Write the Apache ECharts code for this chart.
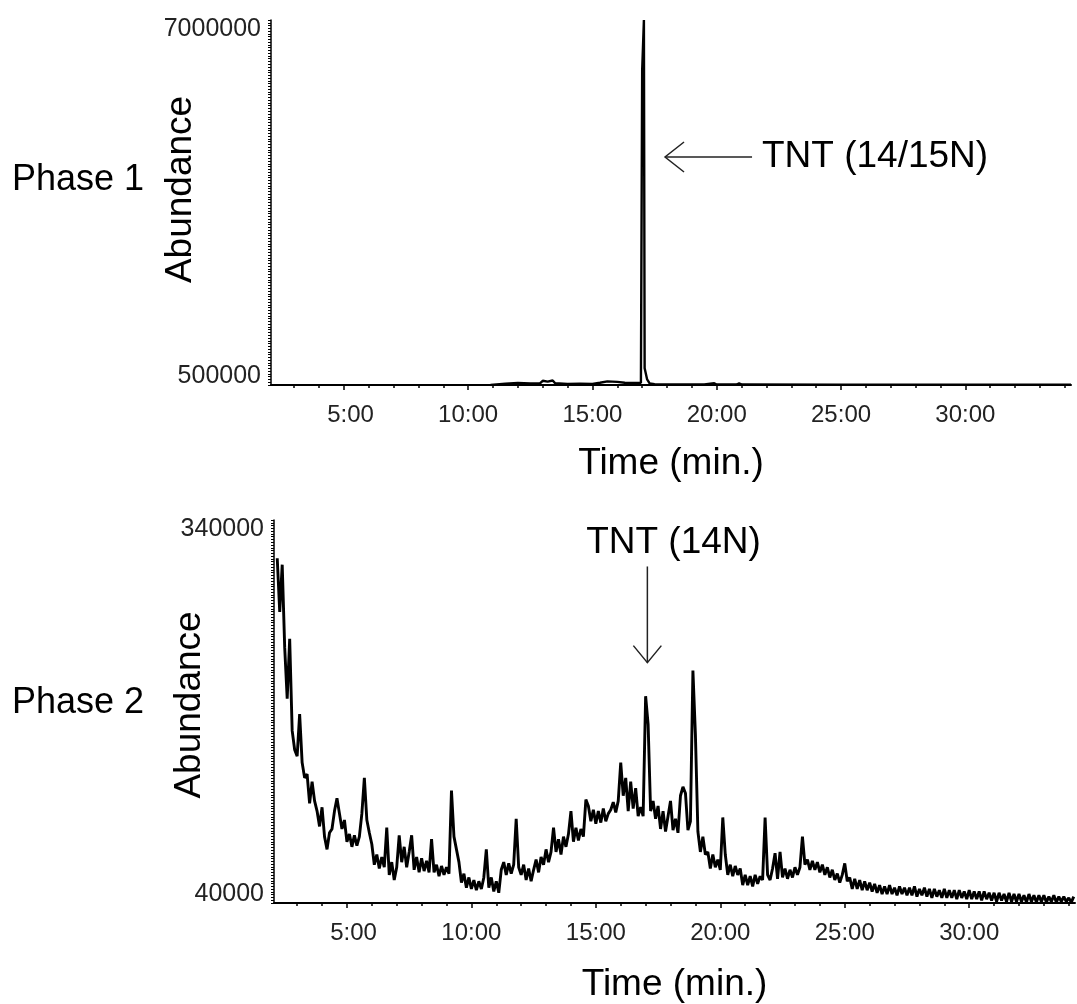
<!DOCTYPE html>
<html><head><meta charset="utf-8">
<script src="https://cdn.jsdelivr.net/npm/echarts@6/dist/echarts.min.js"></script>
<style>html,body{margin:0;padding:0;background:#fff;}#c{width:1077px;height:1004px;}</style>
</head><body><div id="c"></div>
<script>
// ---------- data ----------
const timeRange = [2.07, 34.25];            // minutes
const majorTimeTicks = [5, 10, 15, 20, 25, 30];
const minorTimeTicks = [3, 4, 6, 7, 8, 9, 11, 12, 13, 14, 16, 17, 18, 19, 21, 22, 23, 24, 26, 27, 28, 29, 31, 32, 33, 34];

const phase1Range = [500000, 7000000];
const phase1Times = [10.9, 10.95, 11.5, 12.0, 12.5, 12.9, 13.0, 13.2, 13.4, 13.5, 14.0, 14.5, 15.0, 15.3, 15.6, 16.0, 16.3, 16.6, 16.95,
  17.0, 17.04, 17.07, 17.1, 17.16, 17.2, 17.3, 17.5, 18.0, 19.5, 19.9, 20.0, 20.8, 20.9, 21.0, 25.0, 30.0, 34.25];
const phase1Values = [500000, 530000, 525000, 535000, 528000, 532000, 575000, 560000, 580000, 530000, 520000, 522000, 518000, 540000, 565000, 555000, 540000, 535000, 540000,
  6100000, 6080000, 7000000, 800000, 820000, 600000, 530000, 515000, 510000, 508000, 530000, 508000, 508000, 528000, 508000, 505000, 505000, 505000];

const phase2Range = [40000, 340000];
const phase2StartTime = 2.2;   // minutes, sampled every 0.1 min
const phase2Step = 0.1;
const phase2Values = [
  // 2.2 - 2.9
  310000, 268000, 305000, 240000, 200000, 247000, 175000, 160000,
  // 3.0 - 3.9
  155000, 188000, 150000, 138000, 141000, 118000, 135000, 120000, 112000, 100000,
  // 4
  115000, 92000, 82000, 95000, 98000, 112000, 122000, 110000, 98000, 105000,
  // 5
  88000, 94000, 84000, 93000, 85000, 92000, 110000, 138000, 105000, 95000,
  // 6
  86000, 70000, 78000, 67000, 76000, 68000, 99000, 62000, 72000, 58000,
  // 7
  68000, 93000, 72000, 84000, 68000, 80000, 93000, 66000, 76000, 64000,
  // 8
  75000, 65000, 73000, 64000, 90000, 64000, 70000, 61000, 69000, 62000,
  // 9
  68000, 63000, 128000, 92000, 82000, 72000, 56000, 63000, 52000, 60000,
  // 10
  51000, 58000, 50000, 57000, 51000, 60000, 82000, 52000, 60000, 49000,
  // 11
  57000, 48000, 66000, 72000, 62000, 71000, 63000, 70000, 106000, 68000,
  // 12
  62000, 70000, 58000, 67000, 57000, 66000, 74000, 64000, 76000, 70000,
  // 13
  82000, 72000, 80000, 99000, 80000, 90000, 78000, 92000, 84000, 94000,
  // 14
  112000, 88000, 99000, 89000, 98000, 92000, 121000, 116000, 104000, 113000,
  // 15
  102000, 112000, 103000, 114000, 104000, 110000, 113000, 119000, 111000, 120000,
  // 16
  150000, 124000, 138000, 112000, 135000, 114000, 130000, 108000, 115000, 108000,
  // 17
  202000, 180000, 112000, 120000, 106000, 116000, 98000, 112000, 96000, 108000,
  // 18
  120000, 97000, 106000, 95000, 124000, 131000, 126000, 97000, 104000, 222000,
  // 19
  172000, 96000, 80000, 92000, 78000, 80000, 67000, 78000, 68000, 74000,
  // 20
  66000, 107000, 78000, 62000, 70000, 61000, 69000, 62000, 67000, 54000,
  // 21
  62000, 54000, 61000, 53000, 62000, 55000, 61000, 58000, 107000, 62000,
  // 22
  58000, 67000, 79000, 59000, 80000, 60000, 67000, 59000, 66000, 60000,
  // 23
  68000, 62000, 68000, 92000, 70000, 74000, 66000, 73000, 66000, 72000,
  // 24
  64000, 70000, 62000, 68000, 60000, 66000, 58000, 63000, 56000, 62000,
  // 25
  71000, 57000, 60000, 51000, 59000, 51000, 58000, 50000, 57000, 50000,
  // 26
  56000, 49000, 55000, 48000, 54000, 47000, 53000, 47000, 54000, 47000,
  // 27
  52000, 46000, 53000, 47000, 52000, 46000, 52000, 46000, 53000, 45000,
  // 28
  51000, 46000, 52000, 45000, 51000, 44000, 51000, 45000, 50000, 44000,
  // 29
  51000, 44000, 50000, 44000, 50000, 43000, 50000, 44000, 49000, 43000,
  // 30
  50000, 43000, 49000, 43000, 49000, 42000, 49000, 43000, 48000, 42000,
  // 31
  48000, 41000, 48000, 42000, 47000, 41000, 48000, 41000, 47000, 41000,
  // 32
  47000, 41000, 46000, 40500, 47000, 41000, 46000, 40500, 46000, 41000,
  // 33
  46000, 40500, 45000, 41000, 46000, 40500, 45000, 41000, 45000, 41000,
  // 34.0 - 34.2
  44000, 40500, 45000
];

// annotations (data coordinates)
const annot1 = { text: 'TNT (14/15N)', tip: [17.92, 4560000], tail: [21.42, 4560000], label: [21.82, 4560000] };
const annot2 = { text: 'TNT (14N)', tip: [17.07, 228300], tail: [17.07, 303600], label: [18.12, 322000] };

// ---------- build ----------
const phase1Data = phase1Times.map((t, i) => [t, phase1Values[i]]);
const phase2Data = phase2Values.map((v, i) => [Math.round((phase2StartTime + i * phase2Step) * 100) / 100, v]);

const FONT = "'Liberation Sans', Arial, sans-serif";
function fmtMin(v) { const s = Math.round(v) + ':00'; return s.length < 5 ? '\u2007' + s : s; }

function xMain(gi, gap) {
  return {
    gridIndex: gi, type: 'value', position: 'bottom', min: timeRange[0], max: timeRange[1],
    name: 'Time (min.)', nameLocation: 'middle', nameGap: gap, nameMoveOverlap: false,
    nameTextStyle: { fontFamily: FONT, fontSize: 37, color: '#000', verticalAlign: 'top' },
    axisLine: { show: true, onZero: false, lineStyle: { color: '#000', width: 2 } },
    axisTick: { show: true, customValues: majorTimeTicks, length: 5, lineStyle: { color: '#000', width: 1.5 } },
    axisLabel: { customValues: majorTimeTicks, formatter: fmtMin, fontFamily: FONT, fontSize: 24, color: '#222', margin: 18 },
    splitLine: { show: false }
  };
}
function xMinor(gi) {
  return {
    gridIndex: gi, type: 'value', position: 'bottom', min: timeRange[0], max: timeRange[1],
    axisLine: { show: false, onZero: false },
    axisTick: { show: true, customValues: minorTimeTicks, length: 3, lineStyle: { color: '#000', width: 1.5 } },
    axisLabel: { show: false }, splitLine: { show: false }
  };
}
function yMain(gi, range, gap, shiftUp) {
  return {
    gridIndex: gi, type: 'value', position: 'left', min: range[0], max: range[1],
    name: 'Abundance', nameLocation: 'middle', nameGap: gap, nameRotate: 90, nameMoveOverlap: false,
    nameTextStyle: { fontFamily: FONT, fontSize: 37, color: '#000', padding: [0, 0, 0, shiftUp] },
    axisLine: { show: true, onZero: false, lineStyle: { color: '#000', width: 1.5 } },
    axisTick: { show: false },
    axisLabel: {
      customValues: range, formatter: v => String(Math.round(v)), fontFamily: FONT, fontSize: 25, color: '#222', margin: 10,
      lineHeight: 18, verticalAlignMinLabel: 'bottom', verticalAlignMaxLabel: 'top'
    },
    splitLine: { show: false }
  };
}
function yTicks(gi, count) {
  return {
    gridIndex: gi, type: 'value', position: 'left', min: 0, max: count, interval: 1,
    axisLine: { show: false, onZero: false },
    axisTick: { show: true, length: 3, lineStyle: { color: '#000', width: 1 } },
    axisLabel: { show: false }, splitLine: { show: false }
  };
}

const chart = echarts.init(document.getElementById('c'), null, { renderer: 'canvas' });
const phaseLabels = [
  { type: 'text', left: 12, top: 162, style: { text: 'Phase 1', font: '36px ' + FONT, fill: '#000' } },
  { type: 'text', left: 12, top: 685, style: { text: 'Phase 2', font: '36px ' + FONT, fill: '#000' } }
];
chart.setOption({
  animation: false,
  backgroundColor: '#fff',
  grid: [
    { left: 271, top: 20, width: 800, height: 365 },
    { left: 274, top: 520, width: 801, height: 385 }
  ],
  xAxis: [xMain(0, 60), xMinor(0), xMain(1, 63), xMinor(1)],
  yAxis: [yMain(0, phase1Range, 72, 26), yTicks(0, 132), yMain(1, phase2Range, 66, 13), yTicks(1, 138)],
  series: [
    { name: 'Phase 1', type: 'line', xAxisIndex: 0, yAxisIndex: 0, data: phase1Data, showSymbol: false, silent: true,
      lineStyle: { color: '#000', width: 2.4 } },
    { name: 'Phase 2', type: 'line', xAxisIndex: 2, yAxisIndex: 2, data: phase2Data, showSymbol: false, silent: true,
      lineStyle: { color: '#000', width: 2.9, join: 'bevel' } }
  ],
  graphic: phaseLabels
});

function px(axes, p) { return chart.convertToPixel(axes, p); }
const a1 = { xAxisIndex: 0, yAxisIndex: 0 };
const a2 = { xAxisIndex: 2, yAxisIndex: 2 };
const t1 = px(a1, annot1.tip), e1 = px(a1, annot1.tail), l1 = px(a1, annot1.label);
const t2 = px(a2, annot2.tip), e2 = px(a2, annot2.tail), l2 = px(a2, annot2.label);
const arrowStyle = { stroke: '#222', lineWidth: 1.5, fill: null };
chart.setOption({
  graphic: phaseLabels.concat([
    { type: 'line', shape: { x1: t1[0], y1: t1[1], x2: e1[0], y2: e1[1] }, style: arrowStyle },
    { type: 'polyline', shape: { points: [[t1[0] + 19, t1[1] - 15], [t1[0], t1[1]], [t1[0] + 19, t1[1] + 15]] }, style: arrowStyle },
    { type: 'text', x: l1[0], y: l1[1], style: { text: annot1.text, font: '37px ' + FONT, fill: '#000', align: 'left', verticalAlign: 'middle' } },
    { type: 'line', shape: { x1: t2[0], y1: t2[1], x2: e2[0], y2: e2[1] }, style: arrowStyle },
    { type: 'polyline', shape: { points: [[t2[0] - 14, t2[1] - 17], [t2[0], t2[1]], [t2[0] + 14, t2[1] - 17]] }, style: arrowStyle },
    { type: 'text', x: l2[0], y: l2[1], style: { text: annot2.text, font: '37px ' + FONT, fill: '#000', align: 'center', verticalAlign: 'middle' } }
  ])
}, { replaceMerge: ['graphic'] });
</script></body></html>
